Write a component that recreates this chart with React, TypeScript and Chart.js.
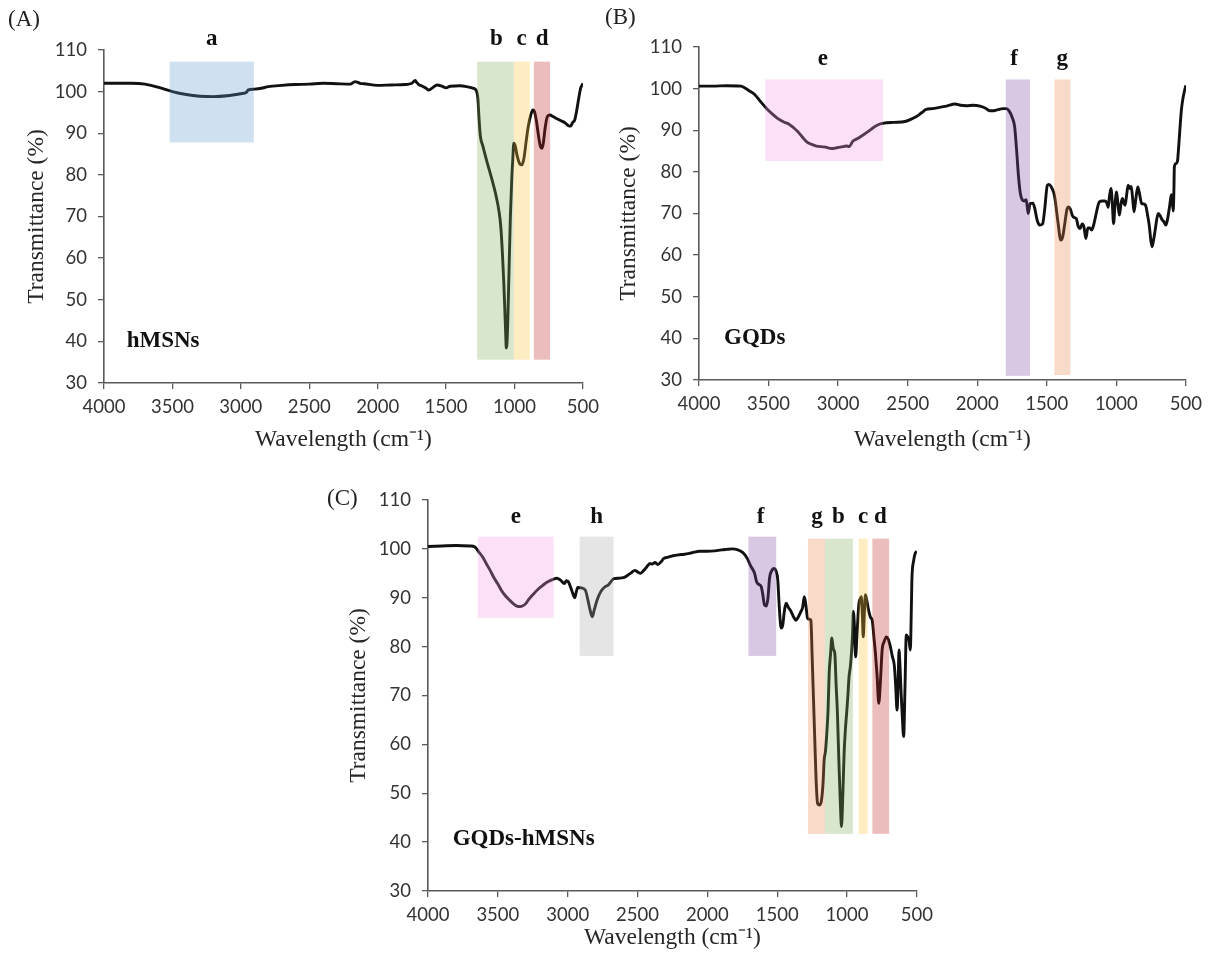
import React, { useEffect, useRef } from 'react';
import { Chart, registerables } from 'chart.js';

Chart.register(...registerables);

// ---------------- data ----------------
// (A) hMSNs
const wavenumberA = [4000,3900,3800,3700,3600,3500,3400,3300,3200,3100,3000,2960,2945,2900,2850,2800,2700,2600,2500,2400,2300,2200,2165,2150,2130,2100,2000,1900,1800,1750,1725,1715,1700,1680,1650,1625,1600,1565,1530,1500,1470,1400,1350,1300,1280,1268,1259,1250,1230,1200,1170,1135,1112,1100,1088,1078,1070,1064,1060,1055,1048,1040,1030,1020,1012,1005,995,980,960,946,930,915,900,880,866,855,840,825,812,800,790,775,760,740,720,690,660,630,605,590,575,560,545,530,515,505,500];
const transmittanceA = [102.0,102.0,102.0,101.8,101.0,100.0,99.3,98.9,98.8,99.0,99.5,99.8,100.4,100.6,100.8,101.2,101.5,101.7,101.8,102.0,101.9,101.8,102.4,102.3,102.0,101.9,101.5,101.6,101.7,102.0,102.7,102.2,101.7,101.4,100.9,100.4,100.9,101.6,101.3,100.9,101.3,101.4,101.2,100.8,100.3,98.5,93.5,89.5,86.8,83.0,79.5,75.0,71.0,67.5,61.0,54.0,47.0,41.5,38.4,39.5,46.0,57.0,70.0,79.0,84.0,87.6,87.0,84.5,82.6,82.4,84.2,88.0,91.5,94.5,95.6,95.3,93.0,89.5,87.0,86.4,87.5,91.5,94.0,94.4,94.0,93.5,93.0,92.5,91.8,91.7,92.6,93.2,95.5,98.5,101.0,101.6,102.0];

// (B) GQDs
const wavenumberB = [4000,3900,3800,3700,3682,3640,3600,3560,3516,3470,3433,3390,3350,3320,3294,3260,3225,3190,3156,3100,3045,3010,2976,2940,2921,2893,2860,2824,2780,2741,2700,2672,2600,2520,2480,2437,2400,2367,2320,2271,2220,2160,2120,2077,2030,1980,1940,1911,1880,1856,1814,1790,1770,1750,1731,1717,1703,1690,1675,1662,1648,1634,1620,1600,1585,1570,1551,1530,1515,1496,1485,1468,1450,1441,1420,1399,1385,1371,1355,1344,1330,1316,1300,1288,1275,1261,1245,1233,1219,1205,1190,1178,1165,1150,1135,1122,1100,1081,1068,1059,1050,1039,1030,1020,1010,998,988,978,966,956,946,937,926,915,903,893,884,873,860,846,835,818,805,790,775,763,752,743,733,721,710,699,686,671,657,644,630,616,605,598,591,586,583,572,561,552,542,532,522,510,500];
const transmittanceB = [100.6,100.6,100.7,100.6,100.4,99.5,98.6,97.0,95.3,93.8,92.8,92.0,91.4,90.6,89.8,88.5,87.2,86.6,86.2,86.0,85.6,85.8,86.0,86.2,86.1,87.4,88.0,88.8,89.8,90.8,91.5,91.7,91.9,92.1,92.6,93.3,94.2,95.0,95.2,95.5,95.8,96.3,96.0,95.9,96.0,95.8,95.3,94.7,94.7,94.9,95.2,95.2,94.6,93.2,90.8,85.2,78.8,74.8,73.2,73.0,73.3,70.0,72.4,72.5,71.0,68.5,67.2,67.5,71.0,76.8,77.0,76.4,75.0,73.5,68.0,63.6,64.5,67.5,71.0,71.6,71.0,69.5,69.0,68.8,67.0,66.4,67.5,66.8,64.0,66.5,66.5,66.0,67.0,69.2,71.5,72.8,73.0,73.0,72.5,71.5,74.0,76.0,73.0,67.6,72.0,75.2,72.0,69.6,72.5,73.6,72.5,72.0,74.5,76.8,76.0,76.5,74.0,70.4,73.5,76.4,75.0,72.4,72.3,72.0,69.5,67.0,63.5,62.0,63.5,66.0,68.5,70.0,69.5,68.5,68.0,67.2,69.0,72.0,74.5,73.0,70.6,76.0,81.2,82.0,82.5,86.0,90.8,95.0,97.5,99.5,100.8];

// (C) GQDs-hMSNs
const wavenumberC = [4000,3900,3800,3700,3664,3637,3610,3583,3555,3528,3500,3474,3446,3419,3390,3364,3340,3324,3300,3283,3250,3214,3180,3146,3110,3078,3051,3023,3010,2996,2977,2960,2950,2940,2928,2901,2873,2855,2840,2824,2810,2790,2764,2735,2710,2669,2635,2601,2570,2546,2519,2500,2478,2455,2437,2410,2396,2375,2355,2330,2314,2280,2246,2200,2164,2110,2055,2000,1946,1900,1864,1820,1782,1760,1741,1714,1690,1662,1650,1643,1630,1615,1605,1591,1578,1566,1555,1540,1524,1510,1496,1485,1472,1460,1450,1437,1420,1401,1385,1366,1350,1330,1318,1306,1295,1283,1270,1259,1250,1240,1231,1222,1211,1195,1183,1172,1164,1155,1145,1136,1128,1118,1109,1098,1088,1078,1069,1058,1048,1040,1030,1021,1012,1003,994,986,976,967,960,955,947,939,928,915,906,898,891,884,876,868,856,844,832,820,808,797,785,773,761,749,735,719,705,690,676,662,652,642,635,628,621,614,605,595,585,576,566,557,547,541,536,524,512,500];
const transmittanceC = [100.5,100.6,100.7,100.6,100.4,99.4,98.4,97.0,95.6,94.1,92.8,91.5,90.4,89.6,88.8,88.3,88.2,88.3,88.8,89.5,90.6,91.7,92.5,93.2,93.7,94.0,93.6,92.9,93.5,93.3,92.0,90.6,90.0,91.0,92.1,92.0,91.5,89.5,87.5,86.1,87.5,89.5,91.2,92.2,92.6,93.9,94.0,94.1,94.6,95.1,95.6,95.3,95.0,95.6,96.2,97.0,96.9,97.2,96.8,97.4,98.0,98.3,98.6,98.8,98.9,99.2,99.5,99.5,99.6,99.8,99.9,100.0,99.8,99.5,99.1,98.0,96.5,95.0,93.5,93.0,92.7,92.3,91.0,88.5,88.3,90.0,94.0,95.5,96.0,95.6,93.6,88.0,83.8,84.5,87.0,88.9,88.0,87.2,86.2,85.4,86.0,87.2,88.0,90.2,88.5,85.8,85.6,85.4,78.0,69.0,60.9,53.0,47.9,47.6,48.6,52.0,56.8,58.5,62.3,67.0,74.6,78.5,81.8,79.5,78.7,72.0,66.4,56.0,48.0,43.2,50.0,58.2,63.0,66.4,70.0,73.8,76.0,79.3,83.0,87.2,84.0,77.9,83.0,88.9,89.8,90.2,87.0,82.0,87.0,90.6,89.0,87.2,86.0,85.4,82.0,78.7,74.0,68.4,73.0,79.3,81.0,82.0,81.5,80.0,78.0,76.2,72.0,67.0,72.0,79.3,76.0,71.1,66.0,61.6,72.0,82.4,82.0,81.4,79.3,86.0,93.6,97.5,99.1,99.5];

// shaded assignment bands: [name, from (cm-1), to (cm-1), low (%), high (%), label x (cm-1)]
type Band = [string, number, number, number, number, number];
const bandsA: Band[] = [
  ['a', 3520, 2905, 87.8, 107.2, 3212],
  ['b', 1273, 1005, 35.6, 107.2, 1132],
  ['c', 1005, 888, 35.6, 107.2, 948],
  ['d', 858, 740, 35.6, 107.2, 797],
];
const bandsB: Band[] = [
  ['e', 3524, 2677, 82.6, 102.2, 3110],
  ['f', 1795, 1620, 31.0, 102.2, 1735],
  ['g', 1446, 1330, 31.2, 102.2, 1388],
];
const bandsC: Band[] = [
  ['e', 3643, 3100, 85.9, 102.5, 3371],
  ['h', 2914, 2672, 78.1, 102.5, 2793],
  ['f', 1706, 1507, 78.1, 102.5, 1619],
  ['g', 1280, 1158, 41.7, 102.1, 1215],
  ['b', 1158, 958, 41.7, 102.1, 1062],
  ['c', 917, 853, 41.7, 102.1, 886],
  ['d', 819, 699, 41.7, 102.1, 762],
];

const X_MIN = 500;
const X_MAX = 4000;
const X_STEP = 500;
const Y_MIN = 30;
const Y_MAX = 110;
const Y_STEP = 10;

// ---------------- styles ----------------
const BAND_FILL: Record<string, string> = {
  a: 'rgba(95,155,208,0.30)',
  b: 'rgba(125,172,92,0.30)',
  c: 'rgba(252,192,52,0.30)',
  d: 'rgba(192,35,35,0.30)',
  e: 'rgba(242,152,232,0.30)',
  f: 'rgba(125,72,165,0.30)',
  g: 'rgba(232,132,72,0.30)',
  h: 'rgba(168,168,168,0.30)',
};
const SERIF = '"Liberation Serif", "Times New Roman", serif';
const TICK_FONT = { family: 'Lato, "Liberation Sans", sans-serif', size: 18.5 };
const AXIS_COLOR = '#5a5a5a';

type PanelSpec = {
  left: number; top: number; width: number; height: number;
  padTop: number; padRight: number; yAxisWidth: number; xAxisHeight: number;
  yTitlePad: number; xTitlePad: number;
  waves: number[]; trans: number[]; bands: Band[];
  labelY: number; sample: string; sampleX: number; sampleY: number;
};

function Panel({ spec }: { spec: PanelSpec }) {
  const ref = useRef<HTMLCanvasElement>(null);
  useEffect(() => {
    const canvas = ref.current;
    if (!canvas) return;
    const points = spec.waves.map((w, i) => ({ x: w, y: spec.trans[i] }));
    const annot = {
      id: 'ftirAnnot',
      afterDatasetsDraw(chart: any) {
        const { ctx } = chart;
        const xs = chart.scales.x;
        const ys = chart.scales.y;
        ctx.save();
        for (const [name, from, to, low, high] of spec.bands) {
          const x1 = xs.getPixelForValue(from);
          const x2 = xs.getPixelForValue(to);
          const y1 = ys.getPixelForValue(high);
          const y2 = ys.getPixelForValue(low);
          ctx.fillStyle = BAND_FILL[name];
          ctx.fillRect(Math.min(x1, x2), y1, Math.abs(x2 - x1), y2 - y1);
        }
        ctx.fillStyle = '#111';
        ctx.font = `bold 23px ${SERIF}`;
        ctx.textBaseline = 'alphabetic';
        ctx.textAlign = 'center';
        for (const [name, , , , , lx] of spec.bands) {
          ctx.fillText(name, xs.getPixelForValue(lx), ys.getPixelForValue(spec.labelY));
        }
        ctx.textAlign = 'left';
        ctx.fillText(spec.sample, xs.getPixelForValue(spec.sampleX), ys.getPixelForValue(spec.sampleY));
        ctx.restore();
      },
    };
    const chart = new Chart(canvas, {
      type: 'line',
      data: {
        datasets: [{
          data: points,
          borderColor: '#111',
          borderWidth: 2.9,
          pointRadius: 0,
          fill: false,
          cubicInterpolationMode: 'monotone',
        }],
      },
      options: {
        animation: false,
        responsive: false,
        events: [],
        layout: { autoPadding: false, padding: { top: spec.padTop, right: spec.padRight, left: 0, bottom: 0 } },
        plugins: { legend: { display: false }, tooltip: { enabled: false } },
        scales: {
          x: {
            type: 'linear',
            reverse: true,
            min: X_MIN,
            max: X_MAX,
            ticks: { stepSize: X_STEP, font: TICK_FONT, color: '#333', padding: 7, maxRotation: 0, autoSkip: false, callback: (v: any) => String(v) },
            grid: { display: true, drawOnChartArea: false, drawTicks: true, tickLength: 6, color: AXIS_COLOR, lineWidth: 1.3 },
            border: { display: true, color: AXIS_COLOR, width: 1.6 },
            title: { display: true, text: 'Wavelength (cm⁻¹)', color: '#262626', font: { family: SERIF, size: 23.5 }, padding: { top: 0, bottom: spec.xTitlePad } },
            afterFit: (s: any) => { s.height = spec.xAxisHeight; },
          },
          y: {
            type: 'linear',
            min: Y_MIN,
            max: Y_MAX,
            ticks: { stepSize: Y_STEP, font: TICK_FONT, color: '#333', padding: 11, callback: (v: any) => String(v) },
            grid: { display: true, drawOnChartArea: false, drawTicks: true, tickLength: 6, color: AXIS_COLOR, lineWidth: 1.3 },
            border: { display: true, color: AXIS_COLOR, width: 1.6 },
            title: { display: true, text: 'Transmittance (%)', color: '#262626', font: { family: SERIF, size: 23.5 }, padding: { top: spec.yTitlePad, bottom: 0 } },
            afterFit: (s: any) => { s.width = spec.yAxisWidth; },
          },
        },
      } as any,
      plugins: [annot as any],
    });
    return () => chart.destroy();
  }, [spec]);
  return (
    <canvas
      ref={ref}
      width={spec.width}
      height={spec.height}
      style={{ position: 'absolute', left: spec.left, top: spec.top, width: spec.width, height: spec.height }}
    />
  );
}

const panelA: PanelSpec = {
  left: 0, top: 0, width: 606, height: 460,
  padTop: 50, padRight: 10, yAxisWidth: 104, xAxisHeight: 77, yTitlePad: 23, xTitlePad: 6,
  waves: wavenumberA, trans: transmittanceA, bands: bandsA,
  labelY: 111.2, sample: 'hMSNs', sampleX: 3834, sampleY: 38.6,
};
const panelB: PanelSpec = {
  left: 600, top: 0, width: 609, height: 460,
  padTop: 47, padRight: 19, yAxisWidth: 99, xAxisHeight: 80, yTitlePad: 15, xTitlePad: 6,
  waves: wavenumberB, trans: transmittanceB, bands: bandsB,
  labelY: 105.7, sample: 'GQDs', sampleX: 3820, sampleY: 38.6,
};
const panelC: PanelSpec = {
  left: 320, top: 470, width: 620, height: 489,
  padTop: 30, padRight: 20, yAxisWidth: 108, xAxisHeight: 68, yTitlePad: 25, xTitlePad: 7,
  waves: wavenumberC, trans: transmittanceC, bands: bandsC,
  labelY: 105.3, sample: 'GQDs-hMSNs', sampleX: 3823, sampleY: 39.4,
};

const letterStyle: React.CSSProperties = {
  position: 'absolute', fontFamily: SERIF, fontSize: 23, lineHeight: 1, color: '#222', whiteSpace: 'nowrap',
};

export default function App() {
  return (
    <div style={{ position: 'absolute', left: 0, top: 0, width: 1209, height: 959, background: '#fff', overflow: 'hidden' }}>
      <Panel spec={panelA} />
      <Panel spec={panelB} />
      <Panel spec={panelC} />
      <div style={{ ...letterStyle, left: 8, top: 7 }}>(A)</div>
      <div style={{ ...letterStyle, left: 605, top: 5 }}>(B)</div>
      <div style={{ ...letterStyle, left: 327, top: 486 }}>(C)</div>
    </div>
  );
}
